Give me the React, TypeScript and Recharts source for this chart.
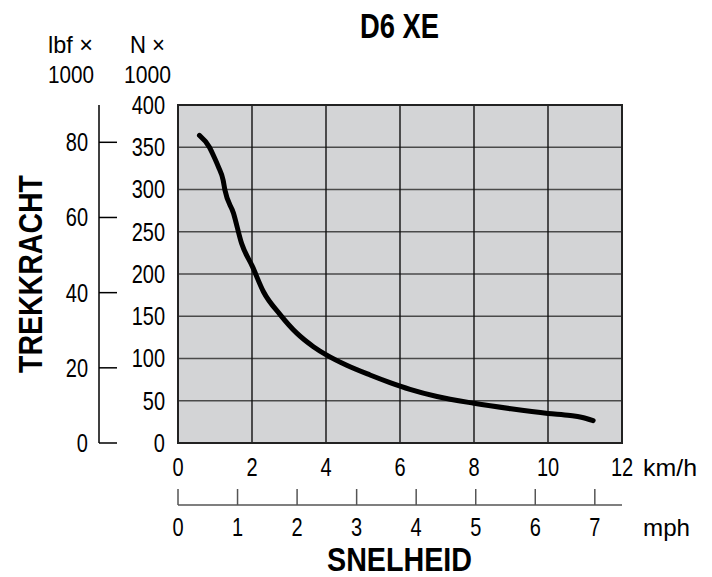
import { LineChart, Line, XAxis, YAxis, CartesianGrid, ReferenceArea } from 'recharts';

// drawbar pull curve (km/h vs kN)
const speedKmh = [0.58, 0.85, 0.95, 1.09, 1.22, 1.27, 1.5, 1.72, 2.01, 2.31, 2.76, 3.21, 3.66, 4.02, 4.56, 5.19, 5.73, 6.27, 7.0, 8.0, 9.0, 10.0, 10.6, 10.9, 11.22];
const pullKN = [364, 350, 341, 327, 311, 299, 272, 236, 209, 179, 152, 130, 114, 104, 92, 80.5, 71.5, 63.5, 55, 47, 40.5, 35, 32.5, 30.5, 26.5];

const kmhTicks = [0, 2, 4, 6, 8, 10, 12];
const mphTicks = [0, 1, 2, 3, 4, 5, 6, 7];
const kNTicks = [0, 50, 100, 150, 200, 250, 300, 350, 400];
const lbfTicks = [0, 20, 40, 60, 80];

const KMH_PER_MPH = 1.609344;
const KN_PER_KLBF = 4.44822;

const data = speedKmh.map((v, i) => ({
  kmh: v,
  mph: v / KMH_PER_MPH,
  kn: pullKN[i],
  klbf: pullKN[i] / KN_PER_KLBF,
}));

const font = "'Liberation Sans', Arial, sans-serif";

// condensed-looking tick label (squeeze Liberation Sans horizontally)
function CondTick(props: any) {
  const { x, y, payload, textAnchor, va } = props;
  const dy = va === 'start' ? '0.71em' : '0.355em';
  return (
    <g transform={`translate(${x},${y})`}>
      <text transform="scale(0.8,1)" textAnchor={textAnchor} dy={dy} fontSize={25} fontFamily={font} fill="#000">
        {payload.value}
      </text>
    </g>
  );
}

export default function App() {
  return (
    <div style={{ position: 'absolute', left: 0, top: 0, width: 712, height: 577, background: '#fff', fontFamily: font }}>
      <LineChart width={712} height={577} data={data} margin={{ top: 105, right: 90, bottom: 32, left: 39 }}>
        <CartesianGrid xAxisId="km" yAxisId="a_n" vertical={false} stroke="#4a4a4a" strokeWidth={1.6} fill="#d3d4d6" fillOpacity={1} />
        <CartesianGrid xAxisId="km" yAxisId="a_n" horizontal={false} stroke="#111" strokeWidth={1.4} />
        <XAxis xAxisId="km" dataKey="kmh" type="number" domain={[0, 12]} ticks={kmhTicks} height={62}
          axisLine={false} tickLine={false} tickSize={0} tickMargin={15} tick={<CondTick va="start" />} interval={0} />
        <XAxis xAxisId="mph" dataKey="mph" type="number" domain={[0, 12 / KMH_PER_MPH]} ticks={mphTicks} height={40}
          allowDataOverflow axisLine={{ stroke: '#555', strokeWidth: 1.5 }} tickLine={{ stroke: '#555', strokeWidth: 1.5 }}
          tickSize={-16} tickMargin={29} tick={<CondTick va="start" />} interval={0} />
        <YAxis yAxisId="b_lbf" dataKey="klbf" type="number" domain={[0, 400 / KN_PER_KLBF]} ticks={lbfTicks} width={60}
          allowDataOverflow axisLine={{ stroke: '#000', strokeWidth: 1.5 }} tickLine={{ stroke: '#000', strokeWidth: 1.5 }}
          tickSize={-18} tickMargin={29} tick={<CondTick va="middle" />} interval={0} />
        <YAxis yAxisId="a_n" dataKey="kn" type="number" domain={[0, 400]} ticks={kNTicks} width={79}
          axisLine={false} tickLine={false} tickSize={0} tickMargin={13} tick={<CondTick va="middle" />} interval={0} />
        <ReferenceArea xAxisId="km" yAxisId="a_n" x1={0} x2={12} y1={0} y2={400} fill="none" stroke="#222" strokeWidth={2} />
        <Line xAxisId="km" yAxisId="a_n" dataKey="kn" type="monotone" stroke="#000" strokeWidth={5}
          strokeLinecap="round" dot={false} isAnimationActive={false} />
      </LineChart>
      <svg width={712} height={577} style={{ position: 'absolute', left: 0, top: 0, pointerEvents: 'none' }}>
        <g fontFamily={font} fill="#000">
          <text x={360} y={38} fontSize={35} fontWeight="bold" textLength={79} lengthAdjust="spacingAndGlyphs">D6 XE</text>
          <text x={48} y={53} fontSize={24} textLength={45} lengthAdjust="spacingAndGlyphs">lbf ×</text>
          <text x={48} y={83} fontSize={24} textLength={46} lengthAdjust="spacingAndGlyphs">1000</text>
          <text x={130} y={53} fontSize={24} textLength={35} lengthAdjust="spacingAndGlyphs">N ×</text>
          <text x={124} y={83} fontSize={24} textLength={47} lengthAdjust="spacingAndGlyphs">1000</text>
          <text transform="translate(42,373) rotate(-90)" fontSize={33} fontWeight="bold" textLength={198} lengthAdjust="spacingAndGlyphs">TREKKRACHT</text>
          <text x={643} y={476} fontSize={24} textLength={54} lengthAdjust="spacingAndGlyphs">km/h</text>
          <text x={643} y={536} fontSize={24} textLength={47} lengthAdjust="spacingAndGlyphs">mph</text>
          <text x={327} y={571} fontSize={34} fontWeight="bold" textLength={145} lengthAdjust="spacingAndGlyphs">SNELHEID</text>
        </g>
      </svg>
    </div>
  );
}
